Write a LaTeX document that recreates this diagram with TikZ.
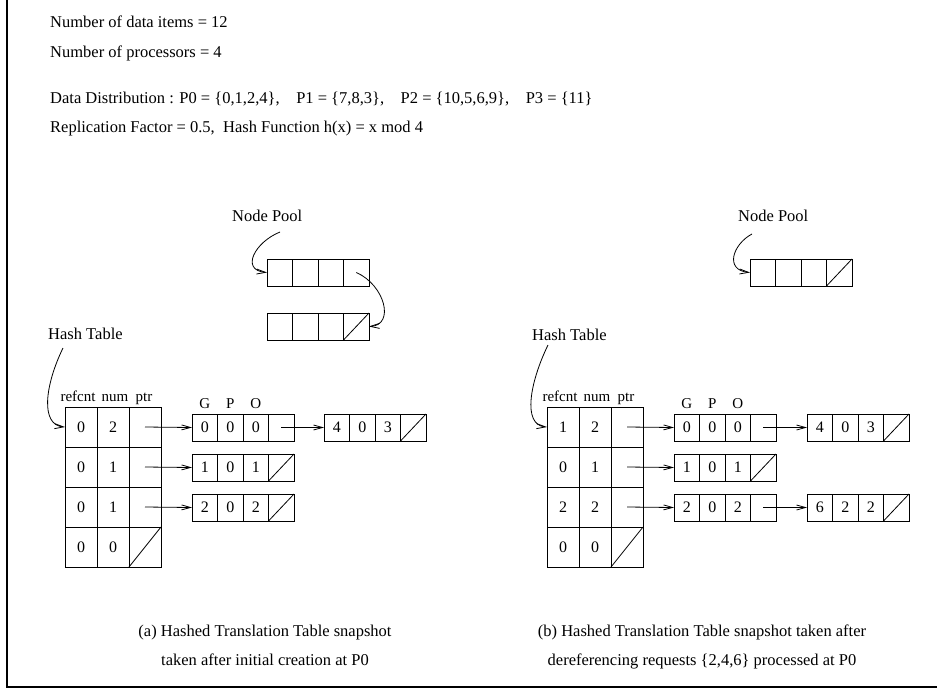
\documentclass[tikz,border=0pt]{standalone}
\usepackage{fontspec}
\setmainfont{Liberation Serif}
\usetikzlibrary{arrows.meta,positioning}
\newcommand\htrow[5]{% name, left x, center y, refcnt, num
  \node[hcell] (#1-1) at ({#2+16},#3) {#4};
  \node[hcell] (#1-2) at ({#2+48},#3) {#5};
  \node[hcell] (#1-3) at ({#2+80},#3) {};
}
\newcommand\grec[6]{% name, left x, center y, a, b, c
  \node[gcell] (#1-1) at ({#2+12.75},#3) {#4};
  \node[gcell] (#1-2) at ({#2+38.25},#3) {#5};
  \node[gcell] (#1-3) at ({#2+63.75},#3) {#6};
  \node[gcell] (#1-4) at ({#2+89.25},#3) {};
}
\newcommand\nilcell[1]{\draw[cellline] (#1.south west) -- (#1.north east);}
\begin{document}
\begin{tikzpicture}[x=1pt,y=-1pt,
  every node/.style={font=\fontsize{16.5}{19}\selectfont},
  cellline/.style={line width=0.8pt},
  hcell/.style={draw, cellline, minimum width=32pt, minimum height=40pt, inner sep=0pt, outer sep=0pt, font=\fontsize{16}{18}\selectfont},
  gcell/.style={draw, cellline, minimum width=25.5pt, minimum height=27pt, inner sep=0pt, outer sep=0pt, font=\fontsize{16}{18}\selectfont},
  ptr/.style={cellline, -{Straight Barb[length=9pt,width=5pt]}},
  txt/.style={anchor=base west, inner sep=0pt},
  lbl/.style={anchor=base, inner sep=0pt},
  small/.style={anchor=base, inner sep=0pt, font=\fontsize{15}{17}\selectfont},
]
\useasboundingbox (0,0) rectangle (937,689);
\draw[line width=2pt] (7,0) -- (7,687) -- (937,687);

% header
\node[txt] (h1) at (50,27) {Number of data items = 12};
\node[txt] (h2) at (50,57) {Number of processors = 4};
\node[txt] (h3) at (50,103) {Data Distribution : P0 = \{0,1,2,4\},\hspace{1em}P1 = \{7,8,3\},\hspace{1em}P2 = \{10,5,6,9\},\hspace{1em}P3 = \{11\}};
\node[txt] (h4) at (50,132) {Replication Factor = 0.5,\ \ Hash Function h(x) = x mod 4};

% ===== (a) =====
\node[anchor=west, inner sep=0pt] (npA) at (232,216) {Node Pool};
\grec{poolA1}{267}{272.5}{}{}{}
\grec{poolA2}{267}{326.5}{}{}{}
\nilcell{poolA2-4}
\coordinate (npAs) at (280,232);
\draw[ptr] (npAs) .. controls (255,242) and (240,270) .. (poolA1-1.west);
\draw[ptr] (poolA1-4.center) .. controls (385,285) and (395,325) .. (poolA2-4.east);

\node[anchor=west, inner sep=0pt] (htA) at (48,334) {Hash Table};
\htrow{ta1}{65}{427}{0}{2}
\htrow{ta2}{65}{467}{0}{1}
\htrow{ta3}{65}{507}{0}{1}
\htrow{ta4}{65}{547}{0}{0}
\nilcell{ta4-3}
\node[small] (rcA) at (78,401) {refcnt};
\node[small] (nmA) at (115,401) {num};
\node[small] (ptA) at (144,401) {ptr};
\coordinate (htAs) at (63,348);
\draw[ptr] (htAs) .. controls (45,385) and (40,425) .. (ta1-1.west);

\grec{ga1}{192}{427.5}{0}{0}{0}
\grec{ga1b}{324}{427.5}{4}{0}{3}
\nilcell{ga1b-4}
\grec{ga2}{192}{467.5}{1}{0}{1}
\nilcell{ga2-4}
\grec{ga3}{192}{507.5}{2}{0}{2}
\nilcell{ga3-4}
\node[small] (gA) at (ga1-1.center |- 0,408) {G};
\node[small] (pA) at (ga1-2.center |- 0,408) {P};
\node[small] (oA) at (ga1-3.center |- 0,408) {O};
\draw[ptr] (ta1-3.center) -- (ga1-1.west);
\draw[ptr] (ta2-3.center) -- (ga2-1.west);
\draw[ptr] (ta3-3.center) -- (ga3-1.west);
\draw[ptr] (ga1-4.center) -- (ga1b-1.west);

% ===== (b) =====
\node[anchor=west, inner sep=0pt] (npB) at (738,216) {Node Pool};
\grec{poolB1}{750}{272.5}{}{}{}
\nilcell{poolB1-4}
\coordinate (npBs) at (752,234);
\draw[ptr] (npBs) .. controls (733,244) and (724,270) .. (poolB1-1.west);

\node[anchor=west, inner sep=0pt] (htB) at (532,335) {Hash Table};
\htrow{tb1}{547}{427}{1}{2}
\htrow{tb2}{547}{467}{0}{1}
\htrow{tb3}{547}{507}{2}{2}
\htrow{tb4}{547}{547}{0}{0}
\nilcell{tb4-3}
\node[small] (rcB) at (560,401) {refcnt};
\node[small] (nmB) at (597,401) {num};
\node[small] (ptB) at (626,401) {ptr};
\coordinate (htBs) at (548,345);
\draw[ptr] (htBs) .. controls (530,382) and (522,425) .. (tb1-1.west);

\grec{gb1}{674}{427.5}{0}{0}{0}
\grec{gb1b}{807}{427.5}{4}{0}{3}
\nilcell{gb1b-4}
\grec{gb2}{674}{467.5}{1}{0}{1}
\nilcell{gb2-4}
\grec{gb3}{674}{507.5}{2}{0}{2}
\grec{gb3b}{807}{507.5}{6}{2}{2}
\nilcell{gb3b-4}
\node[small] (gB) at (gb1-1.center |- 0,408) {G};
\node[small] (pB) at (gb1-2.center |- 0,408) {P};
\node[small] (oB) at (gb1-3.center |- 0,408) {O};
\draw[ptr] (tb1-3.center) -- (gb1-1.west);
\draw[ptr] (tb2-3.center) -- (gb2-1.west);
\draw[ptr] (tb3-3.center) -- (gb3-1.west);
\draw[ptr] (gb1-4.center) -- (gb1b-1.west);
\draw[ptr] (gb3-4.center) -- (gb3b-1.west);

% captions
\node[lbl] (capA1) at (265,636) {(a) Hashed Translation Table snapshot};
\node[lbl] (capA2) at (265,665) {taken after initial creation at P0};
\node[lbl] (capB1) at (702,636) {(b) Hashed Translation Table snapshot taken after};
\node[lbl] (capB2) at (702,665) {dereferencing requests \{2,4,6\} processed at P0};
\end{tikzpicture}
\end{document}
